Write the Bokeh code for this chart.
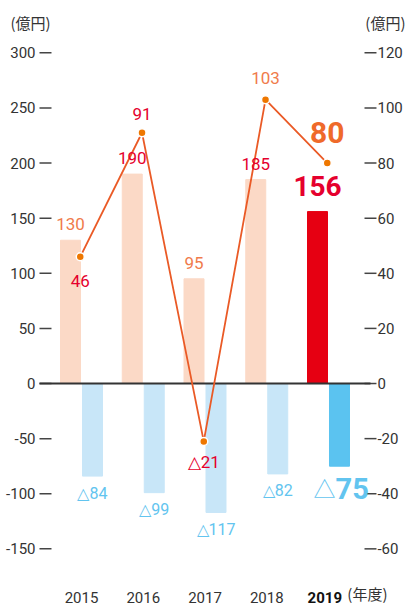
from bokeh.plotting import figure
from bokeh.models import Range1d, ColumnDataSource
from bokeh.core.properties import value
from bokeh.embed import file_html
from bokeh.resources import INLINE

# ---- data ----
years = ["2015", "2016", "2017", "2018", "2019"]
sales = [130, 190, 95, 185, 156]            # left axis (億円), top bars
losses = [84, 99, 117, 82, 75]              # left axis (億円), shown as △ (negative)
profit = [46, 91, -21, 103, 80]             # right axis (億円), line
left_ticks = [-150, -100, -50, 0, 50, 100, 150, 200, 250, 300]
right_ticks = [-60, -40, -20, 0, 20, 40, 60, 80, 100, 120]
unit_label = "(億円)"
year_unit = "(年度)"

# ---- styles ----
PEACH = "#fbd9c6"
RED = "#e60012"
LBLUE = "#c8e6f8"
BLUE = "#5bc3f0"
ORANGE_TXT = "#f07b4b"
RED_TXT = "#e5002d"
BLUE_TXT = "#62c4ef"
LINE = "#ea5a26"
DOT = "#ee7700"
LBL = value("Roboto")
AXF = value("Roboto")
JP = value("Noto Sans CJK JP")
AXC = "#333333"

RATIO = 2.5
YMIN, YMAX = -202.3, 347.5
XMIN, XMAX = -1.3117, 5.2470
x_idx = list(range(len(years)))
BW = 0.324
OFF = 0.178

p = figure(width=405, height=606, output_backend="svg", toolbar_location=None,
           title=None, x_range=Range1d(XMIN, XMAX), y_range=Range1d(YMIN, YMAX),
           x_axis_location=None, y_axis_location=None,
           min_border_left=0, min_border_right=0, min_border_top=0, min_border_bottom=0)
p.outline_line_color = None
p.xgrid.visible = False
p.ygrid.visible = False
p.extra_y_ranges = {"r": Range1d(YMIN / RATIO, YMAX / RATIO)}

# ---- axes (ticks + labels) ----
LX_LAB, LX0, LX1 = -0.745, -0.680, -0.486
RX0, RX1, RX_LAB = 4.583, 4.777, 4.793
p.segment(x0=[LX0] * len(left_ticks), y0=left_ticks, x1=[LX1] * len(left_ticks),
          y1=left_ticks, line_color="#444444", line_width=1.5)
p.text([LX_LAB] * len(left_ticks), left_ticks, text=[str(t) for t in left_ticks],
       text_font=AXF, text_font_size="15px", text_color=AXC,
       text_align="right", text_baseline="middle")
p.segment(x0=[RX0] * len(right_ticks), y0=right_ticks, x1=[RX1] * len(right_ticks),
          y1=right_ticks, line_color="#444444", line_width=1.5, y_range_name="r")
p.text([RX_LAB] * len(right_ticks), right_ticks, text=[str(t) for t in right_ticks],
       text_font=AXF, text_font_size="15px", text_color=AXC, y_range_name="r",
       text_align="left", text_baseline="middle")

# bars
top_src = ColumnDataSource(dict(
    x=[i - OFF for i in x_idx], top=sales,
    color=[PEACH] * (len(years) - 1) + [RED]))
p.vbar(x="x", top="top", bottom=0, width=BW, color="color", source=top_src)

neg_src = ColumnDataSource(dict(
    x=[i + OFF for i in x_idx], bottom=[-v for v in losses],
    color=[LBLUE] * (len(years) - 1) + [BLUE]))
p.vbar(x="x", top=0, bottom="bottom", width=BW, color="color", source=neg_src)

# zero line
p.segment(x0=[LX0], y0=[0], x1=[4.68], y1=[0], line_color="#333333", line_width=2)

# profit line
lx = [i - 0.02 for i in x_idx]
p.line(lx, profit, y_range_name="r", line_color=LINE, line_width=1.8)
p.scatter(lx, profit, y_range_name="r", size=8, fill_color=DOT,
          line_color="white", line_width=1.5)

# bar labels (top)
bar_cols = [ORANGE_TXT, RED_TXT, ORANGE_TXT, RED_TXT]
for i in range(len(years) - 1):
    p.text([x_idx[i] - OFF], [sales[i]], text=[str(sales[i])], text_font=LBL,
           text_font_size="17px", text_color=bar_cols[i], text_align="center",
           text_baseline="middle", y_offset=-16)
i = len(years) - 1
p.text([x_idx[i] - OFF], [sales[i]], text=[str(sales[i])], text_font=LBL,
       text_font_size="28px", text_font_style="bold", text_color=RED_TXT,
       text_align="center", text_baseline="middle", y_offset=-26)

# line labels
line_offs = [24, -19, 21, -22]
line_cols = [RED_TXT, RED_TXT, RED_TXT, ORANGE_TXT]
for i in range(len(years) - 1):
    t = str(profit[i]) if profit[i] >= 0 else "△" + str(-profit[i])
    p.text([lx[i]], [profit[i]], text=[t], y_range_name="r", text_font=LBL,
           text_font_size="17px", text_color=line_cols[i], text_align="center",
           text_baseline="middle", y_offset=line_offs[i])
i = len(years) - 1
p.text([lx[i]], [profit[i]], text=[str(profit[i])], y_range_name="r", text_font=LBL,
       text_font_size="30px", text_font_style="bold", text_color="#ef6a2a",
       text_align="center", text_baseline="middle", y_offset=-31)

# loss labels
for i in range(len(years) - 1):
    p.text([x_idx[i] + OFF], [-losses[i]], text=["△" + str(losses[i])], text_font=LBL,
           text_font_size="16px", text_color=BLUE_TXT, text_align="center",
           text_baseline="middle", y_offset=17)
i = len(years) - 1
p.text([x_idx[i] + OFF], [-losses[i]], text=[str(losses[i])], text_font=LBL,
       text_font_size="29px", text_font_style="bold", text_color=BLUE_TXT,
       text_align="left", text_baseline="middle", x_offset=-4, y_offset=22)
p.text([x_idx[i] + OFF], [-losses[i]], text=["△"], text_font=JP,
       text_font_size="22px", text_color=BLUE_TXT,
       text_align="right", text_baseline="middle", x_offset=-4, y_offset=21)

# year labels
YL = -194.2
p.text(x_idx[:-1], [YL] * (len(years) - 1), text=years[:-1], text_font=AXF,
       text_font_size="15px", text_color=AXC, text_align="center", text_baseline="middle")
p.text([x_idx[-1] - 0.06], [YL], text=[years[-1]], text_font=AXF,
       text_font_size="15px", text_font_style="bold", text_color="#111111",
       text_align="center", text_baseline="middle")
p.text([4.305], [YL], text=[year_unit], text_font=JP, text_font_size="15px",
       text_color=AXC, text_align="left", text_baseline="middle", y_offset=-4)

# unit labels
p.text([-1.15], [327.5], text=[unit_label], text_font=JP, text_font_size="15px",
       text_color=AXC, text_align="left", text_baseline="middle")
p.text([5.247], [327.5], text=[unit_label], text_font=JP, text_font_size="15px",
       text_color=AXC, text_align="right", text_baseline="middle")

open("out.html", "w").write(file_html(p, INLINE))
